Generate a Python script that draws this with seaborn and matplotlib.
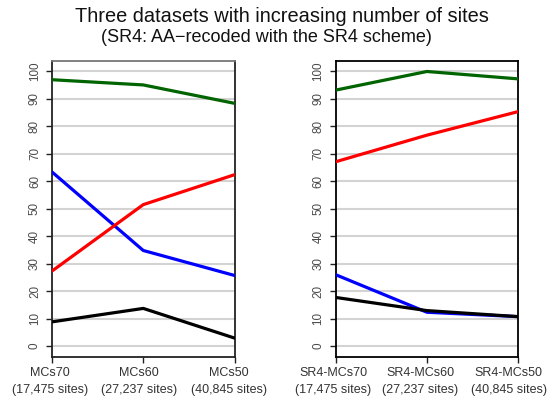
import matplotlib
matplotlib.use("Agg")
import matplotlib.pyplot as plt
import pandas as pd
import seaborn as sns

# Datasets (x positions 1..3) and their tick labels
left_labels = ["MCs70\n(17,475 sites)", "MCs60\n(27,237 sites)", "MCs50\n(40,845 sites)"]
right_labels = ["SR4-MCs70\n(17,475 sites)", "SR4-MCs60\n(27,237 sites)", "SR4-MCs50\n(40,845 sites)"]
positions = [1, 2, 3]

# Percentages per series, left panel (original amino-acid data)
left_green = [97.0, 95.1, 88.4]
left_blue = [63.4, 34.8, 25.7]
left_red = [27.3, 51.5, 62.4]
left_black = [8.8, 13.7, 2.9]

# Percentages per series, right panel (SR4-recoded data)
right_green = [93.2, 100.0, 97.3]
right_blue = [26.0, 12.3, 10.7]
right_red = [67.1, 76.8, 85.4]
right_black = [17.7, 12.9, 10.7]

yticks = list(range(0, 101, 10))
series_colors = {"green": "#006400", "blue": "#0000FF", "red": "#FF0000", "black": "#000000"}

sns.set_style("white")
plt.rcParams["font.family"] = ["Liberation Sans", "DejaVu Sans"]

fig = plt.figure(figsize=(5.51, 4.03), dpi=100)
ax_l = fig.add_axes([52 / 551, 1 - 357 / 403, (234.5 - 52) / 551, (357 - 60.5) / 403])
ax_r = fig.add_axes([335.5 / 551, 1 - 357 / 403, (518.3 - 335.5) / 551, (357 - 60.5) / 403])


def long_table(green, blue, red, black):
    rows = []
    for name, vals in [("green", green), ("blue", blue), ("red", red), ("black", black)]:
        for x, v in zip(positions, vals):
            rows.append({"x": x, "value": v, "series": name})
    return pd.DataFrame(rows)


def draw_panel(ax, df, labels, frame_color, label_shifts):
    for y in yticks:
        ax.axhline(y, color="#d3d3d3", lw=1.5, zorder=0)
    sns.lineplot(data=df, x="x", y="value", hue="series", palette=series_colors,
                 hue_order=["green", "blue", "red", "black"], lw=2.3,
                 legend=False, ax=ax, zorder=3)
    ax.set_xlim(1, 3)
    ax.set_ylim(-4, 104)
    ax.set_xticks(positions)
    ax.set_xticklabels([])
    # two-line dataset labels under each tick, nudged left a little
    for x, lab, dx in zip(positions, labels, label_shifts):
        ax.annotate(lab, xy=(x, 0), xycoords=ax.get_xaxis_transform(),
                    xytext=(dx * 0.72, -7.5), textcoords="offset points",
                    ha="center", va="top", fontsize=9, color="#333333",
                    linespacing=1.55, annotation_clip=False)
    ax.set_yticks(yticks)
    ax.set_yticklabels([str(v) for v in yticks], rotation=90, va="center",
                       fontsize=8.4, color="#4a4a4a")
    ax.tick_params(axis="both", direction="out", length=4.5, width=1.0,
                   color="#222222", left=True, bottom=True)
    ax.tick_params(axis="y", pad=3.5)
    ax.set_xlabel("")
    ax.set_ylabel("")
    for side, sp in ax.spines.items():
        sp.set_visible(True)
        sp.set_color(frame_color)
        sp.set_linewidth(1.3)


draw_panel(ax_l, long_table(left_green, left_blue, left_red, left_black), left_labels,
           "#222222", [-2, -4, -5.5])
ax_l.spines["top"].set_color("#777777")
draw_panel(ax_r, long_table(right_green, right_blue, right_red, right_black), right_labels,
           "#000000", [-2.5, -6.5, -9.5])

fig.text(281.7 / 551, 1 - 22 / 403, "Three datasets with increasing number of sites",
         ha="center", va="baseline", fontsize=14.4, color="#111111")
fig.text(266 / 551, 1 - 42 / 403, "(SR4: AA\u2212recoded with the SR4 scheme)",
         ha="center", va="baseline", fontsize=13, color="#111111")

fig.savefig("out.png", dpi=100)
